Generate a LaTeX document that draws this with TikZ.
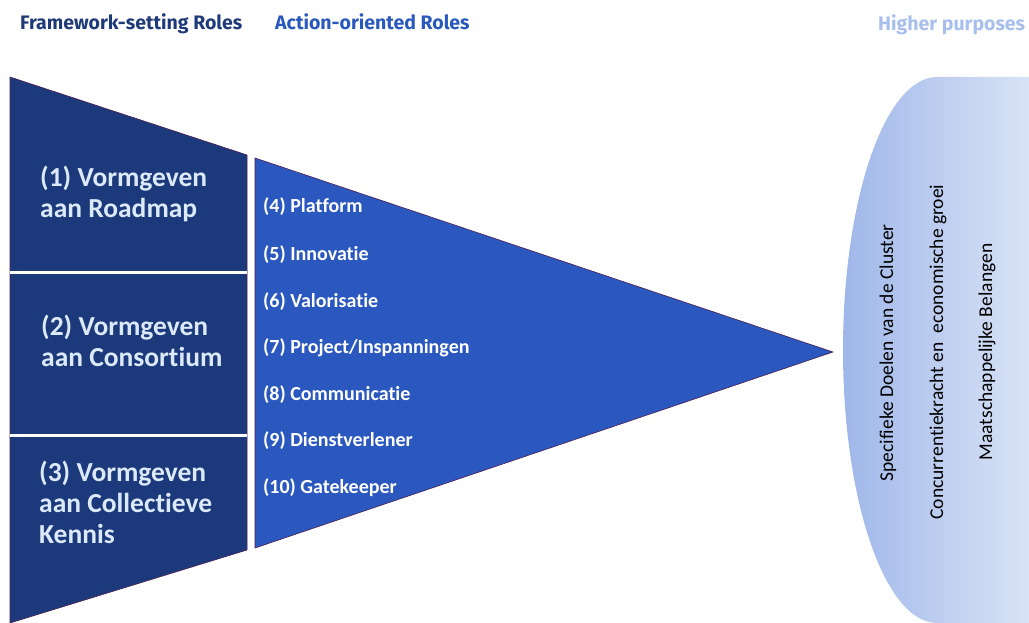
\documentclass[tikz,border=0pt]{standalone}
\usepackage{fontspec}
\setmainfont[Ligatures=NoCommon]{Carlito}
\newfontfamily\headfont{Fira Sans}
\usetikzlibrary{calc}

\definecolor{darkrole}{HTML}{1C3A7B}
\definecolor{actionrole}{HTML}{2B58BF}
\definecolor{rim}{HTML}{4B1E4F}
\definecolor{darktext}{HTML}{DCE9F8}
\definecolor{headone}{HTML}{1F3A78}
\definecolor{headtwo}{HTML}{2A59BE}
\definecolor{headthree}{HTML}{A8BFEE}
\definecolor{purposeleft}{HTML}{9FB7E9}
\definecolor{purposemid}{HTML}{BADDF7}
\definecolor{purposeright}{HTML}{D9E3F6}

\tikzset{
  header/.style={anchor=base west, inner sep=0pt, font=\headfont\bfseries\fontsize{19.5}{22}\selectfont},
  framerole/.style={anchor=base west, inner sep=0pt, align=left, text=darktext,
    font=\bfseries\fontsize{27.5}{31}\selectfont},
  actionitem/.style={anchor=base west, inner sep=0pt, text=white,
    font=\bfseries\fontsize{20}{22}\selectfont},
  purpose/.style={rotate=90, inner sep=0pt, text=black, font=\fontsize{19.5}{22}\selectfont}
}

\begin{document}
\begin{tikzpicture}[x=1pt,y=-1pt]
\useasboundingbox (0,0) rectangle (1029,623);
\coordinate (A) at (10,77);
\coordinate (B) at (247,155);
\coordinate (C) at (247,550);
\coordinate (D) at (10,623);
\coordinate (E) at (255,158);
\coordinate (F) at (833,352);
\coordinate (G) at (255,548);

% Draw the framework-setting trapezoid and its white dividers
\draw[fill=darkrole, draw=rim, line width=0.6pt] (A) -- (B) -- (C) -- (D) -- cycle;
\draw[white, line width=3pt] (10,272) -- (247,272);
\draw[white, line width=3pt] (10,435) -- (247,435);

% Draw the action-oriented triangle
\draw[fill=actionrole, draw=rim, line width=0.6pt] (E) -- (F) -- (G) -- cycle;

% Draw the higher purposes half ellipse (y axis points down here)
\shade[left color=purposeleft, middle color=purposemid, right color=purposeright]
  (1029,77) -- (937,77) arc[start angle=270, end angle=90, x radius=94, y radius=273]
  -- (1029,623) -- cycle;

% Headers
\node[header, text=headone] (hframe) at (20,30) {Framework-setting Roles};
\node[header, text=headtwo] (haction) at (275,30) {Action-oriented Roles};
\node[header, text=headthree] (hpurpose) at (878,31) {Higher purposes};

% Framework-setting roles (base is the last line)
\node[framerole] (roadmap) at (40,218) {(1) Vormgeven\\aan Roadmap};
\node[framerole] (consortium) at (41,366) {(2) Vormgeven\\aan Consortium};
\node[framerole] (kennis) at (39,543) {(3) Vormgeven\\aan Collectieve\\Kennis};

% Action-oriented roles
\node[actionitem] (platform) at (263,213) {(4) Platform};
\node[actionitem] (innovatie) at (263,260) {(5) Innovatie};
\node[actionitem] (valorisatie) at (263,307) {(6) Valorisatie};
\node[actionitem] (project) at (263,353) {(7) Project/Inspanningen};
\node[actionitem] (communicatie) at (263,400) {(8) Communicatie};
\node[actionitem] (dienst) at (263,446) {(9) Dienstverlener};
\node[actionitem] (gatekeeper) at (263,493) {(10) Gatekeeper};

% Higher purposes
\node[purpose] (doelen) at (888,353) {Specifieke Doelen van de Cluster};
\node[purpose] (groei) at (938,352) {Concurrentiekracht en\ \ economische groei};
\node[purpose] (belangen) at (987,352) {Maatschappelijke Belangen};

\end{tikzpicture}
\end{document}
